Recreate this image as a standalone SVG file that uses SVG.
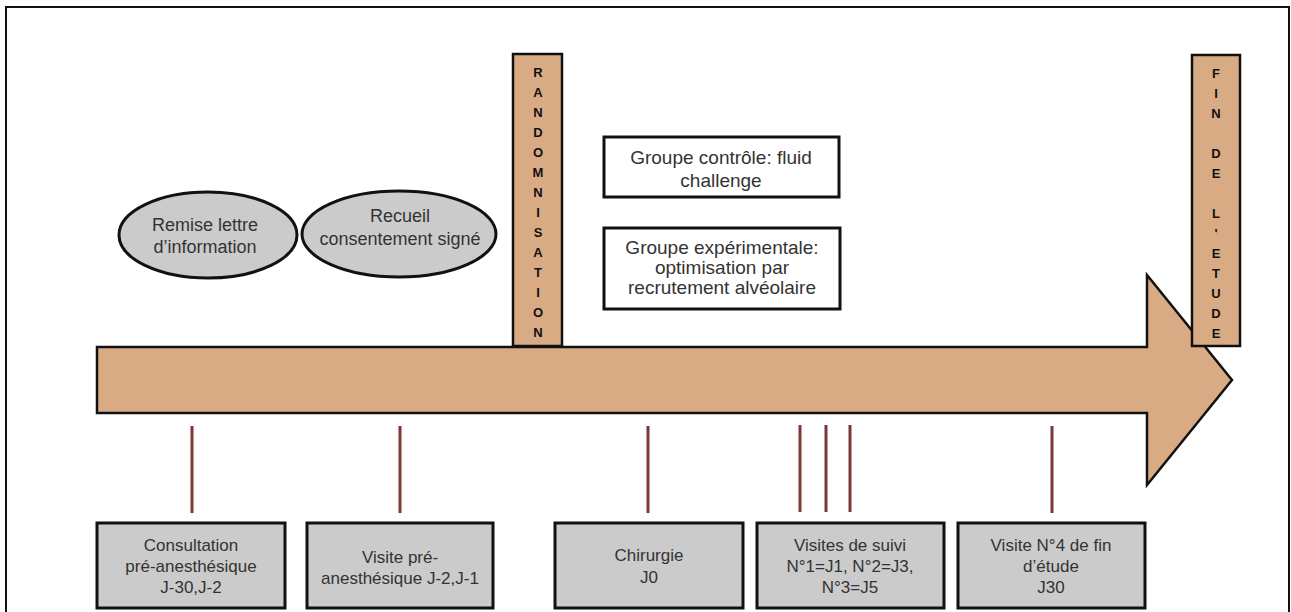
<svg xmlns="http://www.w3.org/2000/svg" width="1291" height="612" viewBox="0 0 1291 612">
<style>
.t{font-family:"Liberation Sans",Arial,Helvetica,sans-serif;fill:#333;text-anchor:middle}
.e{font-size:18px}
.w{font-size:19px}
.b{font-size:17px}
.v{font-family:"Liberation Sans",Arial,sans-serif;font-size:13px;font-weight:bold;fill:#111;text-anchor:middle}
.gray{fill:#cbcbcb;stroke:#111;stroke-width:3}
.white{fill:#fff;stroke:#111;stroke-width:3}
.tan{fill:#d8ab84;stroke:#111;stroke-width:2.5}
.tick{stroke:#7a3838;stroke-width:3}
</style>
<rect x="6" y="7" width="1283" height="620" fill="#fff" stroke="#111" stroke-width="2"/>
<g id="timeline-arrow">
<polygon class="tan" points="97,347 1147,347 1147,275 1232,380 1147,485 1147,413 97,413"/>
</g>
<g id="randomisation">
<rect class="tan" x="513" y="54" width="49" height="292"/>
<text class="v"><tspan x="538" y="77">R</tspan><tspan x="538" y="97">A</tspan><tspan x="538" y="117">N</tspan><tspan x="538" y="137">D</tspan><tspan x="538" y="157">O</tspan><tspan x="538" y="177">M</tspan><tspan x="538" y="197">N</tspan><tspan x="538" y="217">I</tspan><tspan x="538" y="237">S</tspan><tspan x="538" y="257">A</tspan><tspan x="538" y="277">T</tspan><tspan x="538" y="297">I</tspan><tspan x="538" y="317">O</tspan><tspan x="538" y="337">N</tspan></text>
</g>
<g id="fin-etude">
<rect class="tan" x="1192" y="55" width="48" height="291"/>
<text class="v"><tspan x="1216" y="78">F</tspan><tspan x="1216" y="98">I</tspan><tspan x="1216" y="118">N</tspan><tspan x="1216" y="158">D</tspan><tspan x="1216" y="178">E</tspan><tspan x="1216" y="218">L</tspan><tspan x="1216" y="238">'</tspan><tspan x="1216" y="258">E</tspan><tspan x="1216" y="278">T</tspan><tspan x="1216" y="298">U</tspan><tspan x="1216" y="318">D</tspan><tspan x="1216" y="338">E</tspan></text>
</g>
<g id="remise-lettre">
<ellipse class="gray" cx="208" cy="235" rx="89" ry="43"/>
<text class="t e" x="205" y="231">Remise lettre</text>
<text class="t e" x="205" y="253">d’information</text>
</g>
<g id="recueil-consentement">
<ellipse class="gray" cx="399" cy="234" rx="97" ry="43"/>
<text class="t e" x="400" y="222">Recueil</text>
<text class="t e" x="400" y="245">consentement signé</text>
</g>
<g id="groupe-controle">
<rect class="white" x="604" y="137" width="235" height="60"/>
<text class="t w" x="721" y="164">Groupe contrôle: fluid</text>
<text class="t w" x="721" y="187">challenge</text>
</g>
<g id="groupe-experimentale">
<rect class="white" x="604" y="228" width="236" height="81"/>
<text class="t w" x="722" y="254">Groupe expérimentale:</text>
<text class="t w" x="722" y="274">optimisation par</text>
<text class="t w" x="722" y="294">recrutement alvéolaire</text>
</g>
<g id="connectors">
<line class="tick" x1="192" y1="426" x2="192" y2="513"/>
<line class="tick" x1="400" y1="426" x2="400" y2="513"/>
<line class="tick" x1="648" y1="426" x2="648" y2="513"/>
<line class="tick" x1="800" y1="425" x2="800" y2="512"/>
<line class="tick" x1="826" y1="425" x2="826" y2="512"/>
<line class="tick" x1="850" y1="425" x2="850" y2="512"/>
<line class="tick" x1="1052" y1="426" x2="1052" y2="513"/>
</g>
<g id="consultation">
<rect class="gray" x="97" y="523" width="188" height="85"/>
<text class="t b" x="191" y="551">Consultation</text>
<text class="t b" x="191" y="572">pré-anesthésique</text>
<text class="t b" x="191" y="593">J-30,J-2</text>
</g>
<g id="visite-pre">
<rect class="gray" x="307" y="523" width="186" height="85"/>
<text class="t b" x="400" y="563">Visite pré-</text>
<text class="t b" x="400" y="584">anesthésique J-2,J-1</text>
</g>
<g id="chirurgie">
<rect class="gray" x="555" y="523" width="188" height="85"/>
<text class="t b" x="649" y="561">Chirurgie</text>
<text class="t b" x="649" y="583">J0</text>
</g>
<g id="visites-suivi">
<rect class="gray" x="757" y="523" width="187" height="85"/>
<text class="t b" x="850" y="551">Visites de suivi</text>
<text class="t b" x="850" y="572">N°1=J1, N°2=J3,</text>
<text class="t b" x="850" y="593">N°3=J5</text>
</g>
<g id="visite-fin">
<rect class="gray" x="958" y="523" width="187" height="85"/>
<text class="t b" x="1051" y="551">Visite N°4 de fin</text>
<text class="t b" x="1051" y="572">d’étude</text>
<text class="t b" x="1051" y="593">J30</text>
</g>
</svg>
